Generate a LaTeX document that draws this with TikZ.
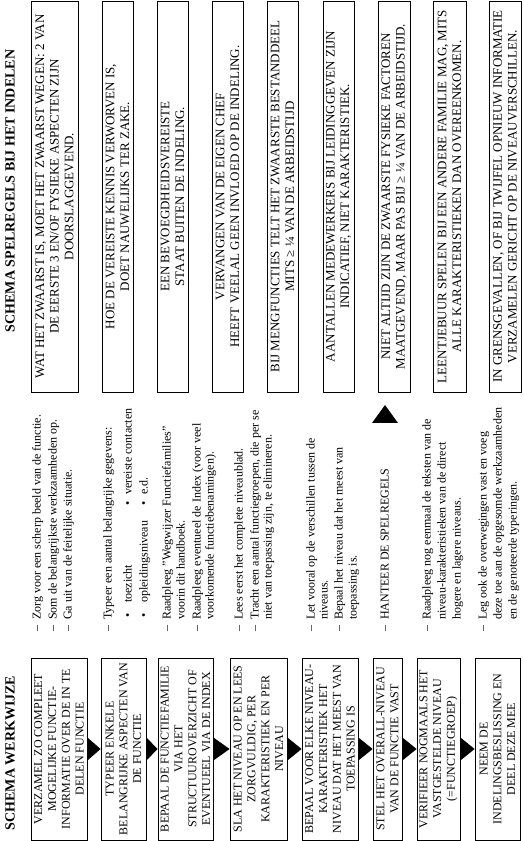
\documentclass[tikz,border=0pt]{standalone}
\usepackage{fontspec}
\setmainfont{Liberation Serif}
\usetikzlibrary{calc}
\tikzset{
  lbox/.style={draw, line width=0.8pt, minimum width=182pt, inner sep=0pt, align=center, font=\fontsize{12}{13.8}\selectfont},
  rbox/.style={draw, line width=0.8pt, minimum width=391pt, inner sep=0pt, align=center, font=\fontsize{13}{14.6}\selectfont},
  mtxt/.style={anchor=base west, inner sep=0pt, font=\fontsize{12}{14}\selectfont},
  hdr/.style={inner sep=0pt, font=\bfseries\fontsize{14}{16}\selectfont},
  flowtip/.style={fill=black},
}
\newcommand{\dsh}{\makebox[12pt][l]{–}}
\begin{document}
\begin{tikzpicture}[x=1pt,y=1pt]
\begin{scope}[rotate=90, transform shape]
\useasboundingbox (0,0) rectangle (841,-523);
% headers
\node[hdr] (h1) at (88,-10) {SCHEMA WERKWIJZE};
\node[hdr] (h2) at (650,-10) {SCHEMA SPELREGELS BIJ HET INDELEN};
% left boxes
\node[lbox, minimum height=56pt] (b1) at (92,-59) {VERZAMEL ZO COMPLEET\\MOGELIJKE FUNCTIE-\\INFORMATIE OVER DE IN TE\\DELEN FUNCTIE};
\node[lbox, minimum height=45pt] (b2) at (92,-123.5) {TYPEER ENKELE\\BELANGRIJKE ASPECTEN VAN\\DE FUNCTIE};
\node[lbox, minimum height=55pt] (b3) at (92,-185.5) {BEPAAL DE FUNCTIEFAMILIE\\VIA HET\\STRUCTUUROVERZICHT OF\\EVENTUEEL VIA DE INDEX};
\node[lbox, minimum height=57pt] (b4) at (92,-258.5) {SLA HET NIVEAU OP EN LEES\\ZORGVULDIG, PER\\KARAKTERISTIEK EN PER\\NIVEAU};
\node[lbox, minimum height=56pt] (b5) at (92,-330) {BEPAAL VOOR ELKE NIVEAU-\\KARAKTERISTIEK HET\\NIVEAU DAT HET MEEST VAN\\TOEPASSING IS};
\node[lbox, minimum height=29pt] (b6) at (92,-387.5) {STEL HET OVERALL-NIVEAU\\VAN DE FUNCTIE VAST};
\node[lbox, minimum height=43pt] (b7) at (92,-438.5) {VERIFIEER NOGMAALS HET\\VASTGESTELDE NIVEAU\\(=FUNCTIEGROEP)};
\node[lbox, minimum height=45pt] (b8) at (92,-497.5) {NEEM DE\\INDELINGSBESLISSING EN\\DEEL DEZE MEE};
\foreach \a/\b in {b1/b2,b2/b3,b3/b4,b4/b5,b5/b6,b6/b7,b7/b8}
  \fill[flowtip] ($(\a.south)+(-11.5,0)$) -- ($(\a.south)+(11.5,0)$) -- (\b.north) -- cycle;
% middle text
\node[mtxt] (m1) at (209,-40.5) {\dsh Zorg voor een scherp beeld van de functie.};
\node[mtxt] (m2) at (209,-56.5) {\dsh Som de belangrijkste werkzaamheden op.};
\node[mtxt] (m3) at (209,-71.5) {\dsh Ga uit van de feitelijke situatie.};
\node[mtxt] (m4) at (209,-111.5) {\dsh Typeer een aantal belangrijke gegevens:};
\node[mtxt] (m5a) at (223,-131.5) {\makebox[15pt][l]{•}toezicht};
\node[mtxt] (m5b) at (335,-131.5) {\makebox[11pt][l]{•}vereiste contacten};
\node[mtxt] (m6a) at (223,-147.5) {\makebox[15pt][l]{•}opleidingsniveau};
\node[mtxt] (m6b) at (335,-147.5) {\makebox[11pt][l]{•}e.d.};
\node[mtxt] (m7) at (209,-170.5) {\dsh Raadpleeg "Wegwijzer Functiefamilies"};
\node[mtxt] (m8) at (221,-184.5) {voorin dit handboek.};
\node[mtxt] (m9) at (209,-200.5) {\dsh Raadpleeg eventueel de Index (voor veel};
\node[mtxt] (m10) at (221,-213.5) {voorkomende functiebenamingen).};
\node[mtxt] (m11) at (209,-242.5) {\dsh Lees eerst het complete niveaublad.};
\node[mtxt] (m12) at (209,-258.5) {\dsh Tracht een aantal functiegroepen, die per se};
\node[mtxt] (m13) at (221,-271.5) {niet van toepassing zijn, te elimineren.};
\node[mtxt] (m14) at (209,-314.5) {\dsh Let vooral op de verschillen tussen de};
\node[mtxt] (m15) at (221,-327.5) {niveaus.};
\node[mtxt] (m16) at (209,-342.5) {\dsh Bepaal het niveau dat het meest van};
\node[mtxt] (m17) at (221,-356.5) {toepassing is.};
\node[mtxt] (m18) at (209,-388.5) {\dsh HANTEER DE SPELREGELS};
\node[mtxt] (m19) at (209,-430.5) {\dsh Raadpleeg nog eenmaal de teksten van de};
\node[mtxt] (m20) at (221,-445.5) {niveau-karakteristieken van de direct};
\node[mtxt] (m21) at (221,-460.5) {hogere en lagere niveaus.};
\node[mtxt] (m22) at (209,-486.5) {\dsh Leg ook de overwegingen vast en voeg};
\node[mtxt] (m23) at (221,-501.5) {deze toe aan de opgesomde werkzaamheden};
\node[mtxt] (m24) at (221,-516.5) {en de genoteerde typeringen.};
\fill[flowtip] (418,-372) -- (436,-385) -- (418,-398) -- cycle;
% right boxes
\node[rbox, minimum height=47pt] (r1) at (644.5,-54.5) {WAT HET ZWAARST IS, MOET HET ZWAARST WEGEN: 2 VAN\\DE EERSTE 3 EN/OF FYSIEKE ASPECTEN ZIJN\\DOORSLAGGEVEND.};
\node[rbox, minimum height=31pt] (r2) at (644.5,-117.5) {HOE DE VEREISTE KENNIS VERWORVEN IS,\\DOET NAUWELIJKS TER ZAKE.};
\node[rbox, minimum height=31pt] (r3) at (644.5,-172.5) {EEN BEVOEGDHEIDSVEREISTE\\STAAT BUITEN DE INDELING.};
\node[rbox, minimum height=31pt] (r4) at (644.5,-227.5) {VERVANGEN VAN DE EIGEN CHEF\\HEEFT VEELAL GEEN INVLOED OP DE INDELING.};
\node[rbox, minimum height=31pt] (r5) at (644.5,-282.5) {BIJ MENGFUNCTIES TELT HET ZWAARSTE BESTANDDEEL\\MITS ≥ ¼ VAN DE ARBEIDSTIJD};
\node[rbox, minimum height=31pt] (r6) at (644.5,-338.5) {AANTALLEN MEDEWERKERS BIJ LEIDINGGEVEN ZIJN\\INDICATIEF, NIET KARAKTERISTIEK.};
\node[rbox, minimum height=32pt] (r7) at (644.5,-394) {NIET ALTIJD ZIJN DE ZWAARSTE FYSIEKE FACTOREN\\MAATGEVEND, MAAR PAS BIJ ≥ ¼ VAN DE ARBEIDSTIJD.};
\node[rbox, minimum height=33pt] (r8) at (644.5,-449.5) {LEENTJEBUUR SPELEN BIJ EEN ANDERE FAMILIE MAG, MITS\\ALLE KARAKTERISTIEKEN DAN OVEREENKOMEN.};
\node[rbox, minimum height=32pt] (r9) at (644.5,-505) {IN GRENSGEVALLEN, OF BIJ TWIJFEL OPNIEUW INFORMATIE\\VERZAMELEN GERICHT OP DE NIVEAUVERSCHILLEN.};
\end{scope}
\end{tikzpicture}
\end{document}
